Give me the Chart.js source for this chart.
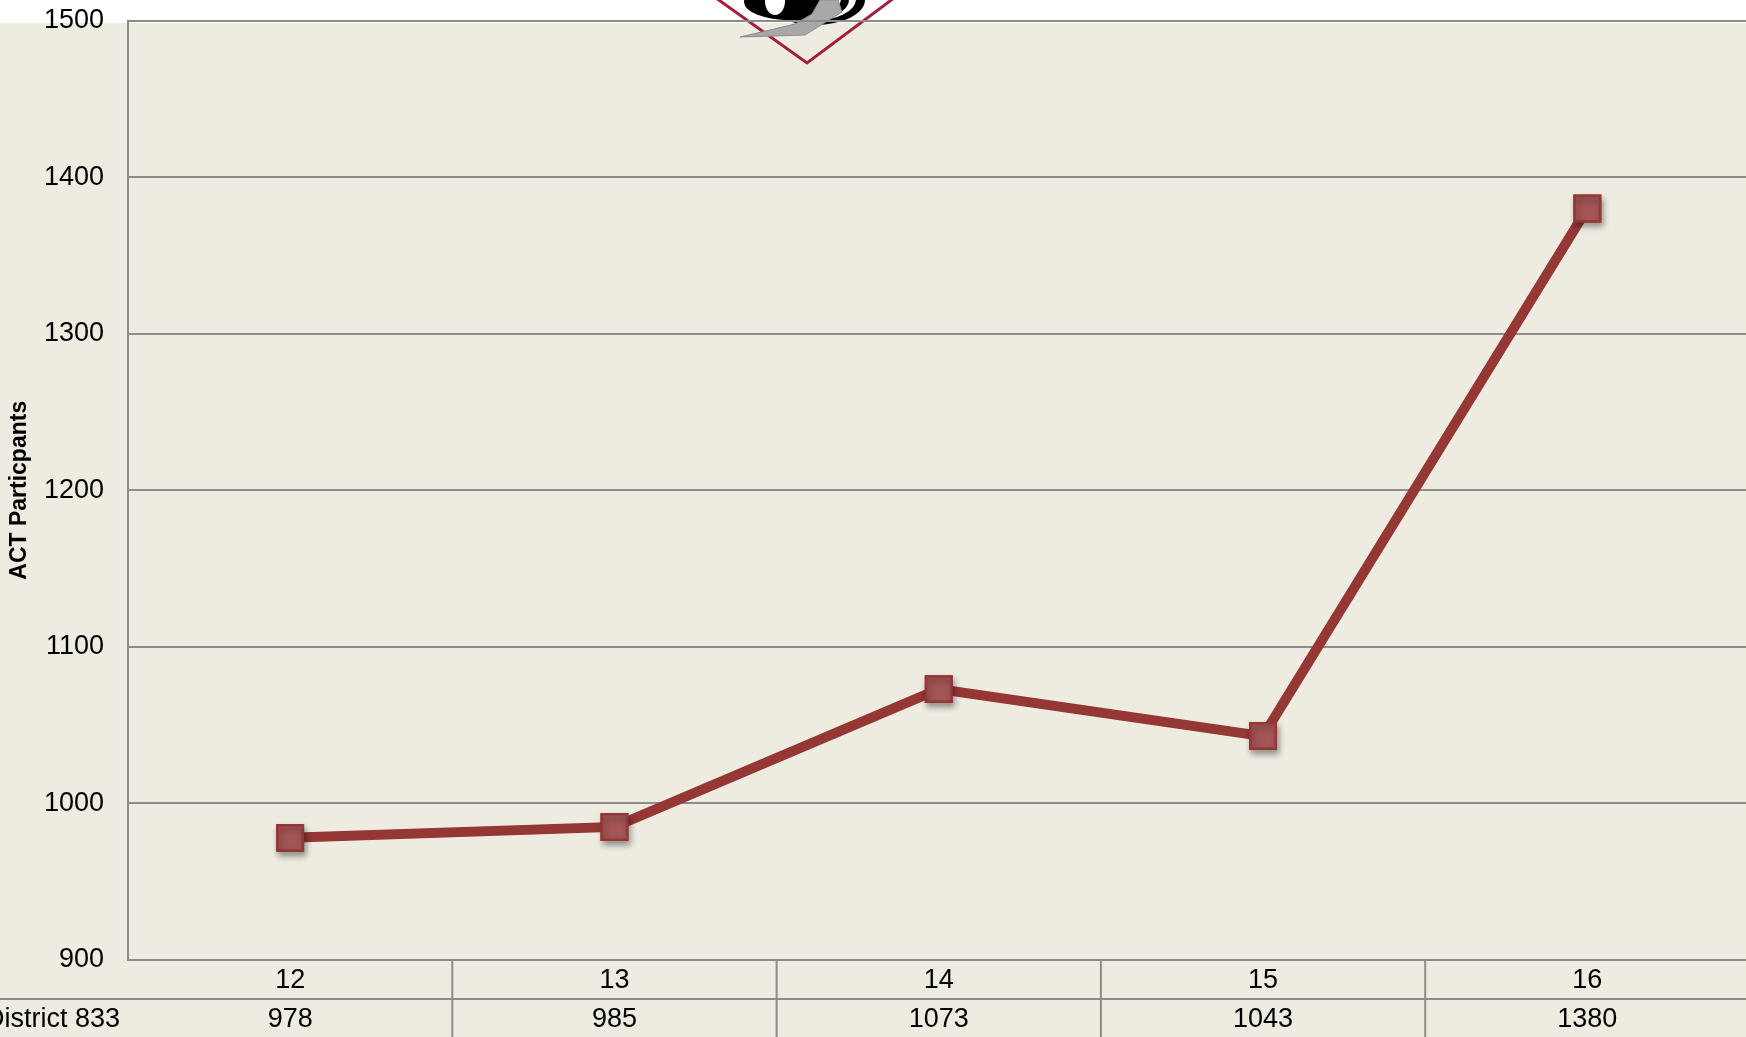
<!DOCTYPE html>
<html>
<head>
<meta charset="utf-8">
<script src="https://cdn.jsdelivr.net/npm/chart.js@4.4.0/dist/chart.umd.min.js"></script>
<style>
  html, body { margin: 0; padding: 0; overflow: hidden; background: #eeece1; }
  #actChart { position: absolute; left: 0; top: 0; }
</style>
</head>
<body>
<canvas id="actChart" width="1770" height="1037"></canvas>
<script>
const categories = ['12', '13', '14', '15', '16'];
const participants = [978, 985, 1073, 1043, 1380];
const yTicks = [900, 1000, 1100, 1200, 1300, 1400, 1500];
const seriesName = 'District 833';
const yTitle = 'ACT Particpants';

const FONT = "'Liberation Sans', Arial, sans-serif";
const bgColor = '#eeece1';
const gridColor = '#8c8c8c';
const lineColor = '#953735';
const markerFill = '#a45656';

// page background, white top strip and the partly hidden logo
const backdrop = {
  id: 'backdrop',
  beforeDraw(chart) {
    const { ctx, width, height } = chart;
    ctx.save();
    ctx.fillStyle = bgColor;
    ctx.fillRect(0, 0, width, height);
    ctx.fillStyle = '#ffffff';
    ctx.fillRect(0, 0, width, 23);

    // red V
    ctx.strokeStyle = '#a31f3a';
    ctx.lineWidth = 3;
    ctx.beginPath();
    ctx.moveTo(716, -2);
    ctx.lineTo(807, 63);
    ctx.lineTo(894, -2);
    ctx.stroke();

    // black rings
    const ell = (x, y, rx, ry, c) => {
      ctx.fillStyle = c;
      ctx.beginPath();
      ctx.ellipse(x, y, rx, ry, 0, 0, Math.PI * 2);
      ctx.fill();
    };
    ell(815, 0, 50, 25, '#000');
    ell(812, -1, 44, 22, '#fff');
    ell(806, 0, 43, 21, '#000');
    ell(803, -1, 38, 18, '#fff');
    ell(790, 2, 46, 18, '#000');
    ell(775, 1, 10, 14, '#fff');

    // grey swoosh
    ctx.fillStyle = '#a8a8a8';
    ctx.strokeStyle = '#8a8a8a';
    ctx.lineWidth = 1;
    ctx.beginPath();
    ctx.moveTo(740, 37);
    ctx.lineTo(805, 35);
    ctx.lineTo(842, 12);
    ctx.lineTo(838, 0);
    ctx.lineTo(820, 0);
    ctx.lineTo(812, 14);
    ctx.lineTo(795, 24);
    ctx.lineTo(770, 30);
    ctx.closePath();
    ctx.fill();
    ctx.stroke();
    ctx.restore();
  }
};

// marker shadows
const markerShadow = {
  id: 'markerShadow',
  afterDatasetsDraw(chart) {
    const { ctx } = chart;
    const meta = chart.getDatasetMeta(0);
    ctx.save();
    ctx.shadowColor = 'rgba(0, 0, 0, 0.35)';
    ctx.shadowBlur = 6;
    ctx.shadowOffsetX = 2;
    ctx.shadowOffsetY = 4;
    meta.data.forEach(p => p.draw(ctx, chart.chartArea));
    ctx.restore();
  }
};

// data table under the x axis
const dataTable = {
  id: 'dataTable',
  afterDraw(chart) {
    const { ctx, width, chartArea } = chart;
    const x = chart.scales.x;
    const half = (x.getPixelForValue(1) - x.getPixelForValue(0)) / 2;
    const rowH = 39;
    const top = chartArea.bottom;

    ctx.save();
    ctx.strokeStyle = gridColor;
    ctx.lineWidth = 2;
    ctx.beginPath();
    ctx.moveTo(0, top + rowH);
    ctx.lineTo(width, top + rowH);
    categories.forEach((c, i) => {
      const cx = x.getPixelForValue(i);
      ctx.moveTo(cx + half, top);
      ctx.lineTo(cx + half, top + rowH * 2);
    });
    ctx.stroke();

    ctx.fillStyle = '#000';
    ctx.font = '27px ' + FONT;
    ctx.textAlign = 'center';
    ctx.textBaseline = 'middle';
    categories.forEach((c, i) => {
      const cx = x.getPixelForValue(i);
      ctx.fillText(c, cx, top + rowH / 2 + 1);
      ctx.fillText(String(participants[i]), cx, top + rowH * 1.5 + 1);
    });
    ctx.textAlign = 'right';
    ctx.fillText(seriesName, chartArea.left - 8, top + rowH * 1.5 + 1);
    ctx.restore();
  }
};

new Chart(document.getElementById('actChart'), {
  type: 'line',
  data: {
    labels: categories,
    datasets: [{
      label: seriesName,
      data: participants,
      borderColor: lineColor,
      borderWidth: 10,
      tension: 0,
      pointStyle: 'rect',
      pointRadius: 18,
      pointHoverRadius: 18,
      pointBackgroundColor: markerFill,
      pointBorderColor: lineColor,
      pointBorderWidth: 2.5
    }]
  },
  options: {
    responsive: false,
    animation: false,
    events: [],
    layout: { padding: { top: 18, right: 11, left: 0, bottom: 0 } },
    plugins: {
      legend: { display: false },
      tooltip: { enabled: false }
    },
    scales: {
      x: {
        offset: true,
        grid: { display: false },
        border: { display: true, color: gridColor, width: 2 },
        ticks: { display: false },
        afterFit: s => { s.height = 77; s.paddingLeft = 0; s.paddingRight = 0; }
      },
      y: {
        min: 900,
        max: 1500,
        afterBuildTicks: s => { s.ticks = yTicks.map(v => ({ value: v })); },
        grid: { color: gridColor, lineWidth: 2, drawTicks: false },
        border: { display: true, color: gridColor, width: 2 },
        ticks: {
          color: '#000',
          padding: 24,
          font: { family: FONT, size: 27 },
          callback: v => String(v)
        },
        title: {
          display: true,
          text: yTitle,
          color: '#000',
          padding: { top: 6, bottom: 0 },
          font: { family: FONT, size: 23, weight: 'bold' }
        },
        afterFit: s => { s.width = 128; s.paddingTop = 0; s.paddingBottom = 0; }
      }
    }
  },
  plugins: [backdrop, markerShadow, dataTable]
});
</script>
</body>
</html>
